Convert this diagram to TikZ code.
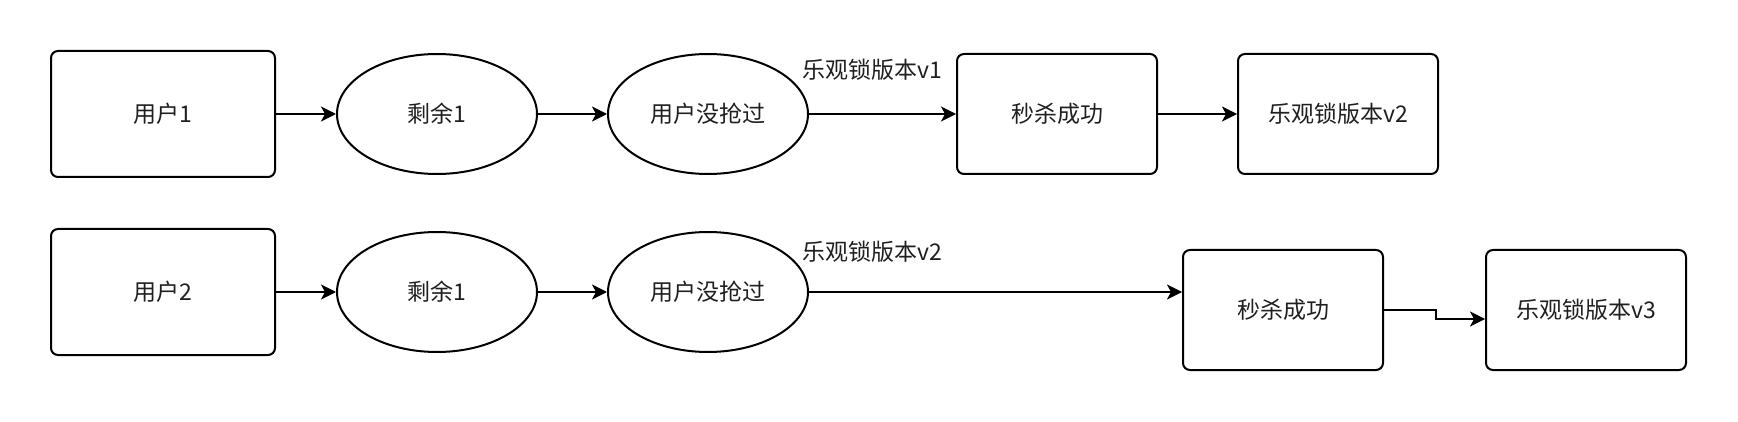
\documentclass[tikz,border=0pt]{standalone}
\usepackage{fontspec}
\setmainfont{Noto Sans CJK SC}
\usetikzlibrary{arrows.meta,shapes.geometric}
\begin{document}
\begin{tikzpicture}[x=1pt,y=-1pt,
  txt/.style={font=\fontsize{23}{27}\selectfont, text=black!88},
  box/.style={txt, draw, line width=2pt, rounded corners=7pt, minimum width=200pt, minimum height=120pt, inner sep=0pt},
  oval/.style={txt, draw, ellipse, line width=2pt, minimum width=200pt, minimum height=120pt, inner sep=0pt},
  lbl/.style={txt, inner sep=0pt},
  conn/.style={line width=2pt, -{Stealth[length=15pt,width=15pt,inset=4pt]}}]
\useasboundingbox (0,0) rectangle (1738,422);
% row 1
\node[box, minimum width=224pt, minimum height=126pt] (u1) at (163,114) {用户1};
\node[oval] (r1) at (437,114) {剩余1};
\node[oval] (n1) at (708,114) {用户没抢过};
\node[box] (s1) at (1057,114) {秒杀成功};
\node[box] (v2) at (1338,114) {乐观锁版本v2};
\node[lbl] (l1) at (872,70) {乐观锁版本v1};
\draw[conn] (u1) -- (r1);
\draw[conn] (r1) -- (n1);
\draw[conn] (n1) -- (s1);
\draw[conn] (s1) -- (v2);
% row 2
\node[box, minimum width=224pt, minimum height=126pt] (u2) at (163,292) {用户2};
\node[oval] (r2) at (437,292) {剩余1};
\node[oval] (n2) at (708,292) {用户没抢过};
\node[box] (s2) at (1283,310) {秒杀成功};
\node[box] (v3) at (1586,310) {乐观锁版本v3};
\node[lbl] (l2) at (872,252) {乐观锁版本v2};
\draw[conn] (u2) -- (r2);
\draw[conn] (r2) -- (n2);
\draw[conn] (n2.east) -- (s2.west |- n2.east);
\draw[conn] (s2.east) -- ++(52,0) |- ([yshift=-9pt]v3.west);
\end{tikzpicture}
\end{document}
